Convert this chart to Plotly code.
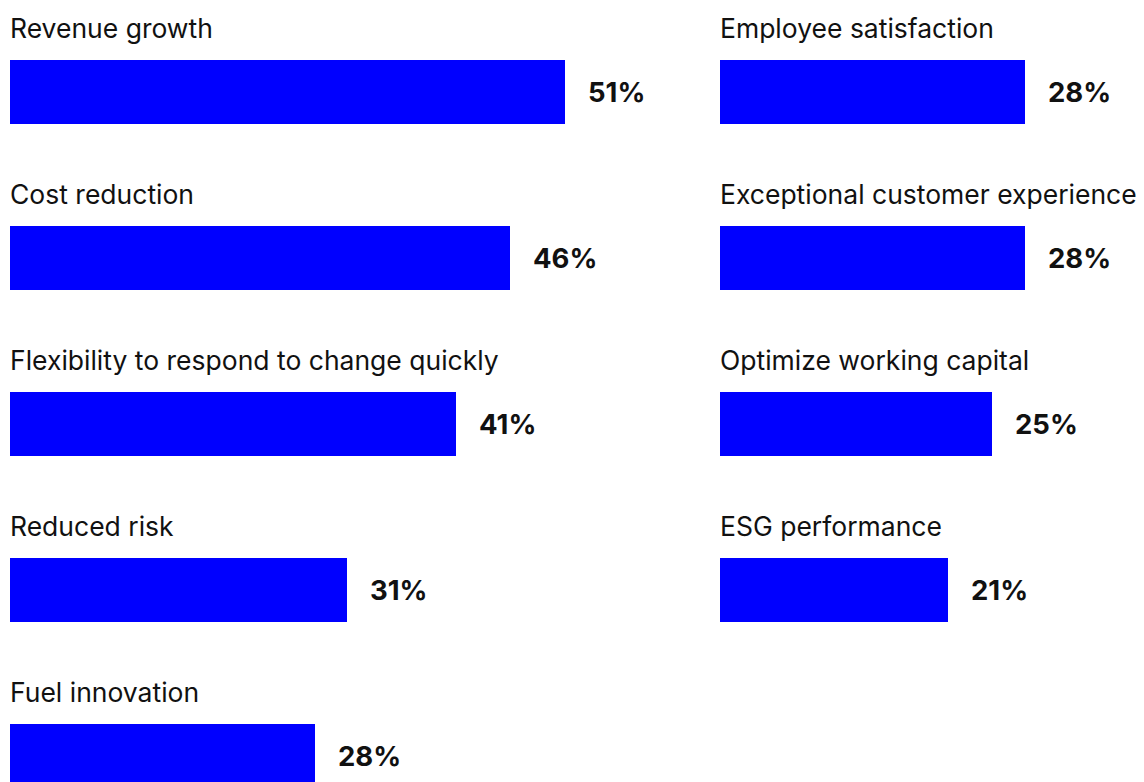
import plotly.graph_objects as go

# Share of respondents naming each expected outcome
left_labels = [
    "Revenue growth",
    "Cost reduction",
    "Flexibility to respond to change quickly",
    "Reduced risk",
    "Fuel innovation",
]
left_values = [51, 46, 41, 31, 28]

right_labels = [
    "Employee satisfaction",
    "Exceptional customer experience",
    "Optimize working capital",
    "ESG performance",
]
right_values = [28, 28, 25, 21]

BAR_COLOR = "#0000FF"
TEXT_COLOR = "#111111"
LABEL_FONT = "Inter"
W, H = 1144, 782
PX_PER_UNIT = 10.88  # horizontal pixels per percentage point
ROW_PITCH = 166      # vertical pixels between rows
FIRST_ROW = 92       # pixel centre of the first row
BAR_H = 64

y_top = -FIRST_ROW / ROW_PITCH
y_bot = (H - FIRST_ROW) / ROW_PITCH
bar_w = BAR_H / ROW_PITCH

left_x0, left_x1 = 10, 700
right_x0, right_x1 = 720, W

fig = go.Figure()

fig.add_trace(go.Bar(
    x=left_values, y=list(range(len(left_values))), orientation="h",
    marker=dict(color=BAR_COLOR, line=dict(width=0)), width=bar_w,
    xaxis="x", yaxis="y", hoverinfo="skip", showlegend=False,
))
fig.add_trace(go.Bar(
    x=right_values, y=list(range(len(right_values))), orientation="h",
    marker=dict(color=BAR_COLOR, line=dict(width=0)), width=bar_w,
    xaxis="x2", yaxis="y2", hoverinfo="skip", showlegend=False,
))

annotations = []
for xref, yref, labels, values in (
    ("x", "y", left_labels, left_values),
    ("x2", "y2", right_labels, right_values),
):
    for i, (lab, val) in enumerate(zip(labels, values)):
        annotations.append(dict(
            x=0, y=i, xref=xref, yref=yref, text=lab, showarrow=False,
            xanchor="left", yanchor="middle", yshift=64, xshift=-2,
            font=dict(family=LABEL_FONT, size=26.5, color=TEXT_COLOR),
        ))
        annotations.append(dict(
            x=val, y=i, xref=xref, yref=yref, text=f"<b>{val}%</b>",
            showarrow=False, xanchor="left", yanchor="middle", xshift=21,
            font=dict(family=LABEL_FONT, size=27.5, color=TEXT_COLOR),
        ))

hidden = dict(visible=False, showgrid=False, zeroline=False, fixedrange=True)

fig.update_layout(
    width=W, height=H,
    margin=dict(l=0, r=0, t=0, b=0),
    paper_bgcolor="white", plot_bgcolor="white",
    bargap=0,
    xaxis=dict(domain=[left_x0 / W, left_x1 / W],
               range=[0, (left_x1 - left_x0) / PX_PER_UNIT], **hidden),
    xaxis2=dict(domain=[right_x0 / W, right_x1 / W],
                range=[0, (right_x1 - right_x0) / PX_PER_UNIT], **hidden),
    yaxis=dict(domain=[0, 1], range=[y_bot, y_top], anchor="x", **hidden),
    yaxis2=dict(domain=[0, 1], range=[y_bot, y_top], anchor="x2", **hidden),
    annotations=annotations,
)

fig.write_html("out.html")
